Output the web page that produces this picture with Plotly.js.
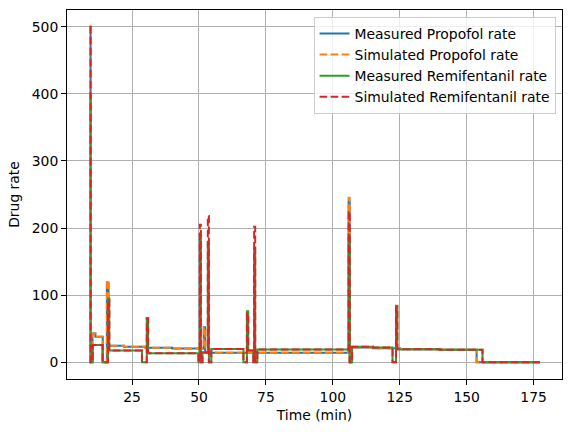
<!DOCTYPE html>
<html>
<head>
<meta charset="utf-8">
<script src="https://cdn.plot.ly/plotly-3.0.1.min.js"></script>
<style>html,body{margin:0;padding:0;background:#fff;}#chart{width:571px;height:432px;}</style>
</head>
<body>
<div id="chart"></div>
<script>
// Measured Propofol rate
var tPropMeas = [9.1, 9.5, 10.2, 11.3, 14.05, 15.6, 16.2, 22, 30, 40, 51.8, 52.3, 105.9, 106.3, 107.0, 115, 125, 140, 153.7, 177.3];
var vPropMeas = [500, 0, 43, 38, 0, 118, 24.5, 23, 21.5, 20.5, 52, 14.3, 240, 0, 22, 21, 19.5, 18.5, 0, 0];
// Simulated Propofol rate
var tPropSim = [9.1, 9.5, 10.2, 11.3, 14.05, 15.6, 16.2, 22, 30, 40, 51.8, 52.3, 105.9, 106.3, 107.0, 115, 125, 140, 153.7, 177.3];
var vPropSim = [500, 0, 43, 38, 0, 122, 24.5, 23, 21.5, 20.5, 52, 14.3, 245, 0, 22, 21, 19.5, 18.5, 0, 0];
// Measured Remifentanil rate
var tRemiMeas = [9.1, 9.5, 10.3, 14.0, 16.0, 16.5, 28.7, 30.5, 31.0, 49.8, 50.3, 50.7, 51.3, 53.3, 53.7, 54.6, 66.6, 67.9, 68.4, 70.3, 70.6, 71.0, 71.8, 105.9, 106.3, 107.2, 115, 122.3, 123.6, 124.1, 140, 155.9, 177.3];
var vRemiMeas = [400, 0, 25.5, 0, 95, 17.3, 0, 66, 13.5, 0, 190, 0, 14.5, 177, 0, 19.8, 0, 76, 17.5, 0, 170, 0, 19, 185, 0, 23, 22, 0, 84, 19.3, 18.5, 0, 0];
// Simulated Remifentanil rate
var tRemiSim = [9.1, 9.5, 10.3, 14.0, 16.0, 16.5, 28.7, 30.5, 31.0, 49.8, 50.3, 50.7, 51.3, 53.3, 53.7, 54.6, 66.6, 67.9, 68.4, 70.3, 70.6, 71.0, 71.8, 105.9, 106.3, 107.2, 115, 122.3, 123.6, 124.1, 140, 155.9, 177.3];
var vRemiSim = [500, 0, 25.5, 0, 93, 17.3, 0, 65, 13.5, 0, 205, 0, 14.5, 218, 0, 19.8, 0, 73, 17.5, 0, 202, 0, 19, 225, 0, 23, 22, 0, 82, 19.3, 18.5, 0, 0];

var names = ['Measured Propofol rate', 'Simulated Propofol rate', 'Measured Remifentanil rate', 'Simulated Remifentanil rate'];
var colors = ['#1f77b4', '#ff7f0e', '#2ca02c', '#d62728'];
var dashes = ['solid', '7.7px,3.3px', 'solid', '7.7px,3.3px'];
var xs = [tPropMeas, tPropSim, tRemiMeas, tRemiSim];
var ys = [vPropMeas, vPropSim, vRemiMeas, vRemiSim];

var traces = xs.map(function (x, i) {
  return {
    x: x, y: ys[i], type: 'scatter', mode: 'lines', name: names[i],
    line: {color: colors[i], width: 2, dash: dashes[i], shape: 'hv'}
  };
});

var fnt = {family: 'DejaVu Sans, sans-serif', size: 13.9, color: '#000'};
var axisBase = {
  showline: true, mirror: true, linecolor: '#000', linewidth: 1,
  ticks: 'outside', ticklen: 5, tickwidth: 1, tickcolor: '#000',
  showgrid: true, gridcolor: '#b0b0b0', gridwidth: 1, zeroline: false,
  tickfont: fnt
};

var layout = {
  width: 571, height: 432,
  margin: {l: 67, r: 9, t: 10, b: 53},
  paper_bgcolor: '#fff', plot_bgcolor: '#fff',
  font: fnt,
  showlegend: true,
  xaxis: Object.assign({}, axisBase, {
    range: [0.7, 185.6], tickmode: 'linear', tick0: 25, dtick: 25,
    title: {text: 'Time (min)', font: fnt, standoff: 6}
  }),
  yaxis: Object.assign({}, axisBase, {
    range: [-25, 525], tickmode: 'linear', tick0: 0, dtick: 100,
    title: {text: 'Drug rate', font: fnt, standoff: 8}
  }),
  legend: {
    x: 0.987, y: 0.981, xanchor: 'right', yanchor: 'top',
    bgcolor: 'rgba(255,255,255,0.8)', bordercolor: '#cccccc', borderwidth: 1,
    font: fnt, tracegroupgap: 0, itemwidth: 30
  }
};

Plotly.newPlot('chart', traces, layout, {staticPlot: true, displayModeBar: false});
</script>
</body>
</html>
